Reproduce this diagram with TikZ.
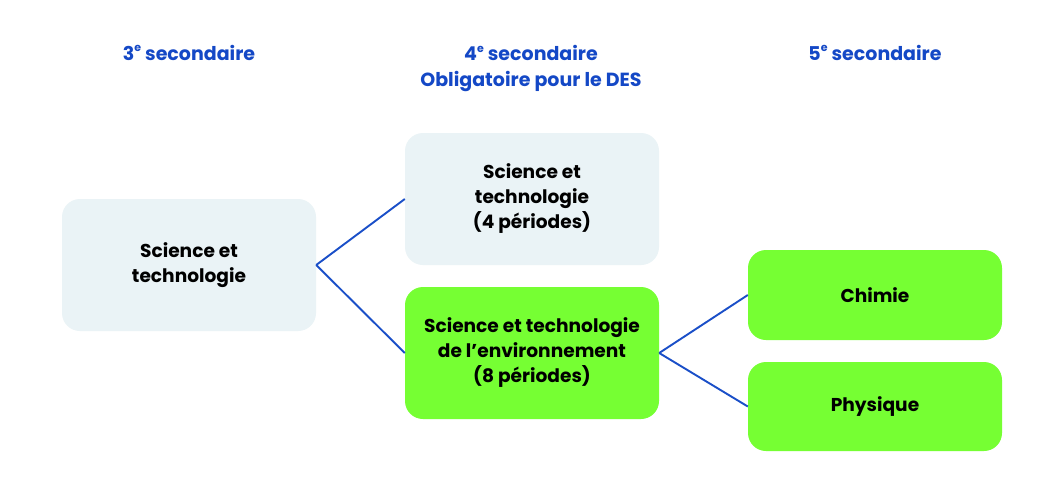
\documentclass[tikz,border=0pt]{standalone}
\usepackage{fontspec}
\setmainfont{Poppins}
\definecolor{hdr}{HTML}{1448C6}
\definecolor{greybox}{HTML}{EAF3F6}
\definecolor{greenbox}{HTML}{76FF33}
\definecolor{conn}{HTML}{1A4FC8}
\newcommand{\supe}{\raisebox{0.45em}{\fontsize{11}{11}\selectfont e}}
\tikzset{
  box/.style={rounded corners=18pt, minimum width=254pt, align=center, inner sep=0pt,
    font=\fontsize{18.6}{25}\selectfont\bfseries, text=black},
  grey/.style={box, fill=greybox, minimum height=132pt},
  green/.style={box, fill=greenbox},
  header/.style={align=center, text=hdr, font=\fontsize{19}{26}\selectfont\bfseries},
  link/.style={draw=conn, line width=1.9pt}
}
\begin{document}
\begin{tikzpicture}[x=1pt,y=-1pt]
\useasboundingbox (0,0) rectangle (1064,496);
\fill[white] (0,0) rectangle (1064,496);
\node[header] (h3) at (189,53) {3\supe{} secondaire};
\node[header, anchor=north] (h4) at (531,42) {4\supe{} secondaire\\Obligatoire pour le DES};
\node[header] (h5) at (875,53) {5\supe{} secondaire};

\node[grey] (st3) at (189,265) {Science et\\technologie};
\node[grey] (st4) at (532,199) {Science et\\technologie\\(4 périodes)};
\node[green, minimum height=132pt] (ste) at (532,353) {Science et technologie\\de l’environnement\\(8 périodes)};
\node[green, minimum height=90pt] (chi) at (875,295) {Chimie};
\node[green, minimum height=89pt] (phy) at (875,406.5) {Physique};

\draw[link] (st3.east) -- (st4.west);
\draw[link] (st3.east) -- (ste.west);
\draw[link] (ste.east) -- (chi.west);
\draw[link] (ste.east) -- (phy.west);
\end{tikzpicture}
\end{document}
